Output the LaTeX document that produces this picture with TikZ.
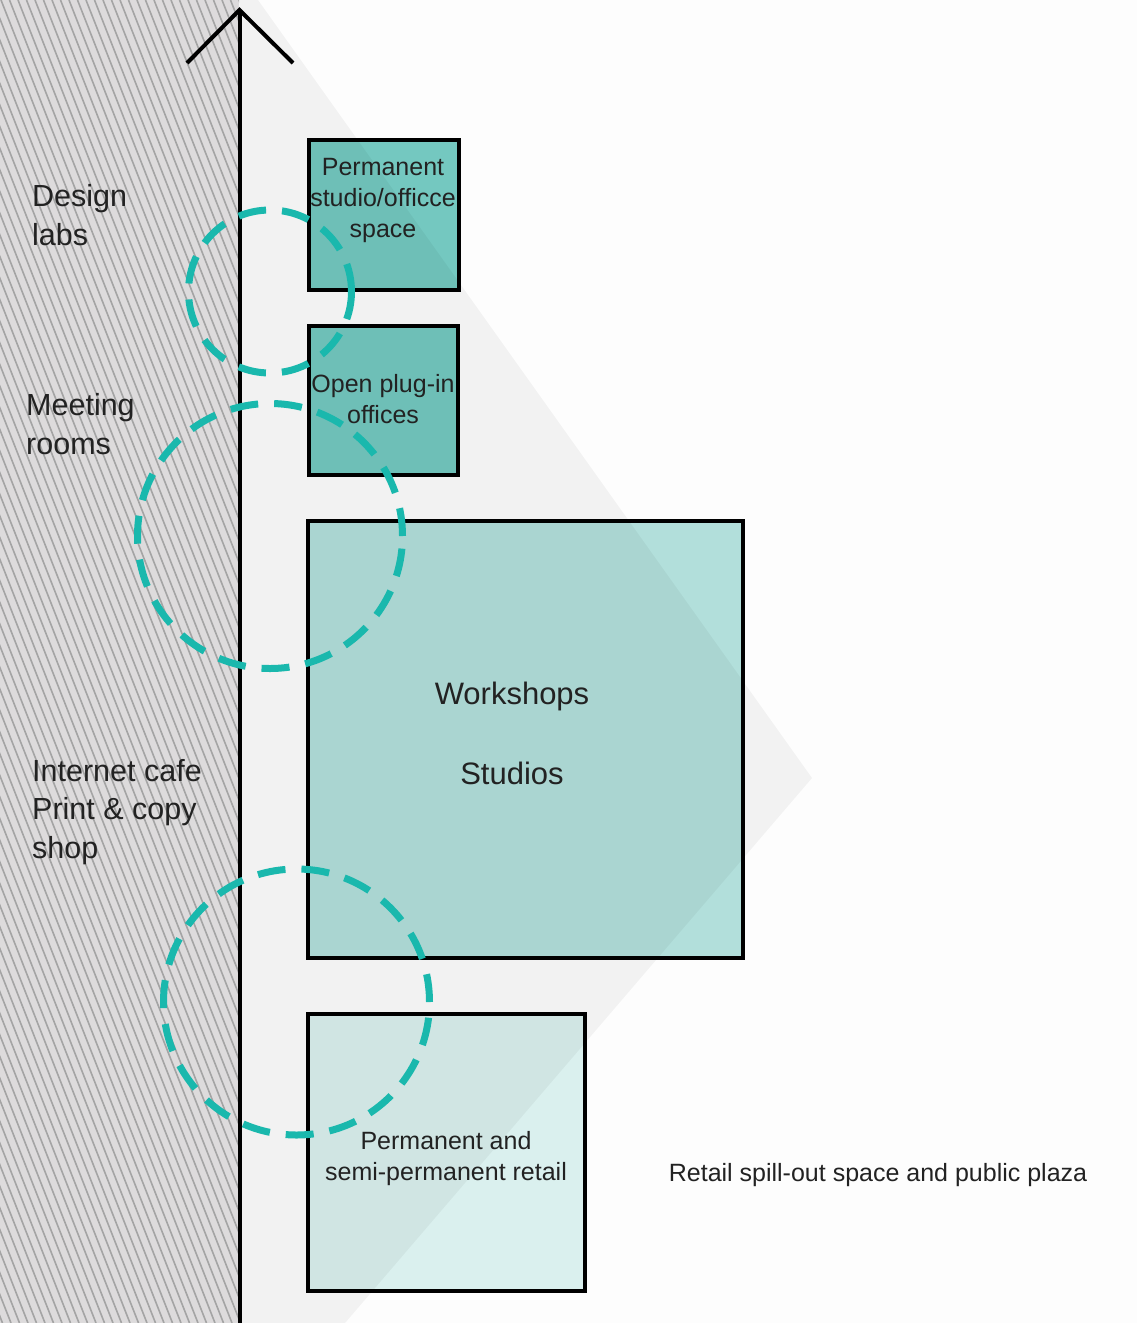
\documentclass[tikz,border=0pt]{standalone}
\usepackage{fontspec}
\setmainfont{Liberation Sans}
\definecolor{topc}{HTML}{74C8C0}
\definecolor{workc}{HTML}{B2DFDB}
\definecolor{retc}{HTML}{DAF0EE}
\definecolor{ringc}{HTML}{1AB8AD}
\definecolor{hatchbg}{HTML}{DDDBDC}
\definecolor{hatchln}{HTML}{A4A4A4}
\definecolor{txt}{HTML}{222222}
\definecolor{paper}{HTML}{FDFDFD}
\begin{document}
\begin{tikzpicture}[x=1pt,y=-1pt,
  box/.style={rectangle, draw=black, line width=4pt, inner sep=0pt, outer sep=0pt},
  ring/.style={circle, draw=ringc, line width=7pt, dash pattern=on 28pt off 16pt, inner sep=0pt, outer sep=0pt},
  sidelab/.style={anchor=west, align=left, inner sep=0pt, text=txt, font=\fontsize{30.5}{38.5}\selectfont},
  boxlab/.style={align=center, inner sep=0pt, text=txt, font=\fontsize{25}{31}\selectfont},
  biglab/.style={inner sep=0pt, text=txt, font=\fontsize{31}{38}\selectfont},
  axis/.style={draw=black, line width=4pt}
]
\useasboundingbox (0,0) rectangle (1137,1323);
\fill[paper] (0,0) rectangle (1137,1323);

% boxes
\node[box, fill=topc, minimum width=150pt, minimum height=150.5pt] (b1) at (383.5,214.75) {};
\node[box, fill=topc, minimum width=149.5pt, minimum height=149pt] (b2) at (383.25,400.5) {};
\node[box, fill=workc, minimum width=435.5pt, minimum height=437pt] (b3) at (525.25,739.5) {};
\node[box, fill=retc, minimum width=277pt, minimum height=277pt] (b4) at (446.5,1152) {};

% light grey triangle (overlay)
\fill[black, fill opacity=0.045] (240,0) -- (258,0) -- (812,778) -- (345,1323) -- (240,1323) -- cycle;

% hatched band
\begin{scope}
  \clip (0,0) rectangle (239,1323);
  \fill[hatchbg] (0,0) rectangle (240,1323);
  \foreach \i in {-560,-551.5,...,245} {
    \draw[hatchln, line width=1.6pt] (\i,0) -- ++(520,1323);
  }
\end{scope}

% axis with open arrowhead
\coordinate (top) at (239.5,10);
\coordinate (bot) at (239.5,1330);
\coordinate (cl) at (187,63);
\coordinate (cr) at (293,63);
\draw[axis] (bot) -- (top);
\draw[axis, line join=miter] (cl) -- (top) -- (cr);

% dashed rings
\node[ring, minimum size=163pt] (r1) at (270,291.5) {};
\node[ring, minimum size=265pt] (r2) at (270,536) {};
\node[ring, minimum size=266pt] (r3) at (296.5,1002) {};

% left labels
\node[sidelab] (l1) at (32,215) {Design\\labs};
\node[sidelab] (l2) at (26,424) {Meeting\\rooms};
\node[sidelab] (l3) at (32,812) {Internet cafe\\Print \& copy\\shop};

% box labels
\node[boxlab] (t1) at (383,200) {Permanent\\studio/officce\\space};
\node[boxlab] (t2) at (383,399) {Open plug-in\\offices};
\node[biglab] (t3a) at (512,696) {Workshops};
\node[biglab] (t3b) at (512,773) {Studios};
\node[boxlab] (t4) at (446,1159) {Permanent and\\semi-permanent retail};
\node[boxlab] (t5) at (878,1175) {Retail spill-out space and public plaza};
\end{tikzpicture}
\end{document}
